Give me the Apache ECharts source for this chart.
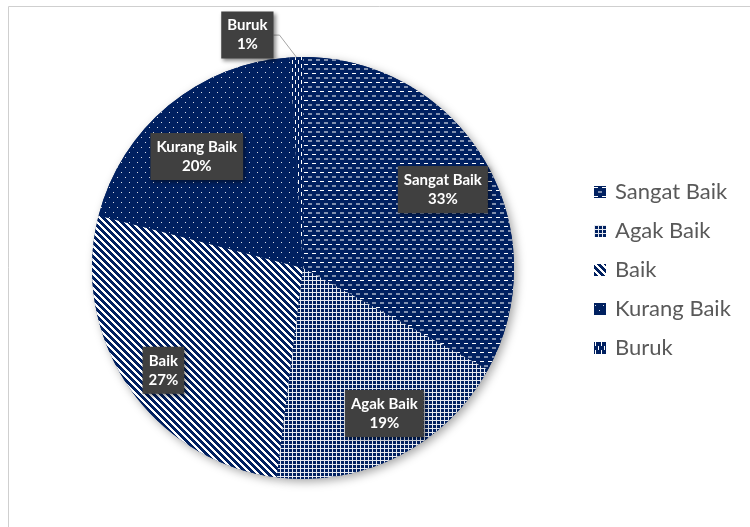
<!DOCTYPE html>
<html>
<head>
<meta charset="utf-8">
<script src="https://cdn.jsdelivr.net/npm/echarts@6/dist/echarts.min.js"></script>
<style>
  html, body { margin: 0; padding: 0; background: #fff; }
  #chart { width: 750px; height: 527px; }
</style>
</head>
<body>
<div id="chart"></div>
<script>
// Kategori penilaian dan persentasenya
const categories = ['Sangat Baik', 'Agak Baik', 'Baik', 'Kurang Baik', 'Buruk'];
const percentages = [33, 19, 27, 20, 1];

const NAVY = '#002060';
const CX = 303, CY = 268, R = 211;

// Pattern tiles for each slice (navy ground, white strokes)
function makeTile(w, h, draw) {
  const c = document.createElement('canvas');
  c.width = w; c.height = h;
  const g = c.getContext('2d');
  g.fillStyle = NAVY;
  g.fillRect(0, 0, w, h);
  g.fillStyle = '#ffffff';
  draw(g, w, h);
  return c;
}
const tiles = [
  // dashed horizontal
  makeTile(8, 9, g => {
    g.fillRect(0, 1, 4, 1);
    g.fillRect(4, 5.5, 4, 1);
  }),
  // small grid
  makeTile(4, 4, g => {
    g.globalAlpha = 0.9;
    g.fillRect(0, 0, 4, 1);
    g.fillRect(0, 1, 1, 3);
  }),
  // wide downward diagonal
  makeTile(7, 7, g => {
    for (let y = 0; y < 7; y++) {
      for (let k = 0; k < 3; k++) {
        g.fillRect((y + k) % 7, y, 1, 1);
      }
    }
  }),
  // sparse dots
  makeTile(8, 10, g => {
    g.globalAlpha = 0.85;
    g.fillRect(1, 2, 1, 1);
    g.fillRect(5, 7, 1, 1);
  }),
  // dashed vertical
  makeTile(6, 8, g => {
    g.fillRect(1, 0, 1, 4);
    g.fillRect(4, 4, 1, 4);
  })
];

// label placement inside the slices: radius fraction and small angular turn
const labelRadius = [0.76, 0.79, 0.82, 0.73];
const labelTurn = [1.3, -2.2, -2, -4];

const total = percentages.reduce((a, b) => a + b, 0);
const midAngles = [];
(function () {
  let acc = 0;
  percentages.forEach(v => {
    midAngles.push((acc + v / 2) / total * 360);
    acc += v;
  });
})();
function polar(angleDeg, r) {
  const a = angleDeg * Math.PI / 180;
  return [CX + r * Math.sin(a), CY - r * Math.cos(a)];
}

const labelStyle = {
  show: true,
  position: 'inside',
  formatter: p => p.name + '\n' + Math.round(p.percent) + '%',
  color: '#ffffff',
  fontFamily: 'Lato',
  fontWeight: 'bold',
  fontSize: 15,
  lineHeight: 19,
  backgroundColor: '#404040',
  padding: [5, 6, 4, 6],
  shadowColor: 'rgba(0,0,0,0.45)',
  shadowBlur: 4,
  shadowOffsetX: 2,
  shadowOffsetY: 2
};

const chart = echarts.init(document.getElementById('chart'), null, { renderer: 'canvas' });

chart.setOption({
  animation: false,
  backgroundColor: '#ffffff',
  graphic: [{
    type: 'rect',
    silent: true,
    shape: { x: 8.5, y: 6.5, width: 800, height: 600 },
    style: { fill: 'none', stroke: '#cfcfcf', lineWidth: 1 }
  }],
  legend: {
    orient: 'vertical',
    left: 589,
    top: 176,
    itemWidth: 12,
    itemHeight: 12,
    itemGap: 17,
    icon: 'rect',
    selectedMode: false,
    data: categories,
    textStyle: { fontFamily: 'Lato', fontSize: 22, color: '#595959', lineHeight: 22, padding: [0, 0, 0, 4] }
  },
  series: [
    {
      type: 'pie',
      name: 'Penilaian',
      z: 3,
      center: [CX, CY],
      radius: R,
      startAngle: 90,
      clockwise: true,
      avoidLabelOverlap: false,
      emphasis: { disabled: true },
      itemStyle: { borderWidth: 0 },
      label: labelStyle,
      labelLine: { show: false },
      data: categories.map((name, i) => {
        const item = { name, value: percentages[i], itemStyle: { color: { image: tiles[i], repeat: 'repeat' } } };
        if (i === 4) {
          item.label = { position: 'outside' };
          item.labelLine = { show: true, length: 8, length2: 8, lineStyle: { color: '#a6a6a6', width: 1 } };
        }
        return item;
      }),
      labelLayout: function (params) {
        const i = params.dataIndex;
        if (i === 4) {
          const edge = polar(midAngles[i], R);
          const lx = edge[0] - 49, ly = edge[1] - 22;
          const right = lx + params.labelRect.width / 2;
          return {
            x: lx, y: ly, align: 'center', verticalAlign: 'middle',
            labelLinePoints: [edge, [right + 6, ly], [right, ly]]
          };
        }
        const p = polar(midAngles[i] + labelTurn[i], R * labelRadius[i]);
        return { x: p[0], y: p[1], align: 'center', verticalAlign: 'middle' };
      }
    },
    {
      // solid underlay that carries the soft drop shadow of the disc
      type: 'pie',
      name: 'Bayangan',
      z: 2,
      silent: true,
      center: [CX, CY],
      radius: R,
      startAngle: 90,
      clockwise: true,
      emphasis: { disabled: true },
      itemStyle: { color: NAVY, shadowColor: 'rgba(0,0,0,0.35)', shadowBlur: 10, shadowOffsetX: 3, shadowOffsetY: 3 },
      label: { show: false },
      labelLine: { show: false },
      data: categories.map((name, i) => ({ name, value: percentages[i] }))
    }
  ]
});
</script>
</body>
</html>
